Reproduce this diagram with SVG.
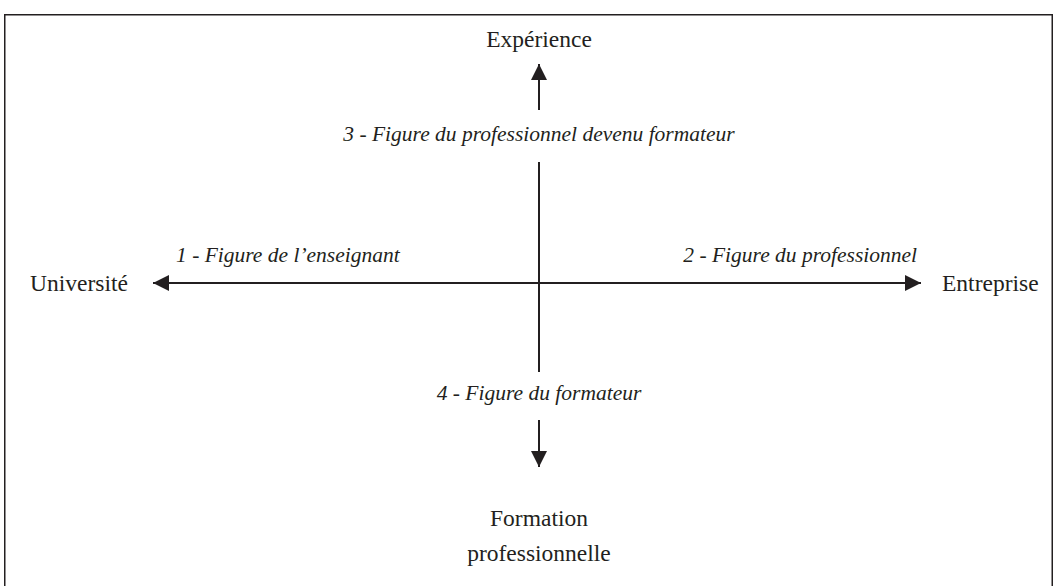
<svg xmlns="http://www.w3.org/2000/svg" width="1054" height="586" viewBox="0 0 1054 586">
<style>
.t{font-family:"Liberation Serif","Times New Roman",serif;font-size:23.5px;fill:#231f20}
.i{font-style:italic;font-size:21.5px}
.ax{stroke:#231f20;stroke-width:2;fill:none}
</style>
<defs>
<marker id="ah" viewBox="0 0 16 16" refX="16" refY="8" markerWidth="16" markerHeight="16" markerUnits="userSpaceOnUse" orient="auto">
<path d="M0,0 L16,8 L0,16 z" fill="#231f20"/>
</marker>
</defs>
<rect x="4.75" y="14.75" width="1047.5" height="600" fill="none" stroke="#231f20" stroke-width="1.5"/>
<g id="connectors">
<line class="ax" x1="539" y1="110" x2="539" y2="64" marker-end="url(#ah)"/>
<line class="ax" x1="539" y1="162" x2="539" y2="372"/>
<line class="ax" x1="539" y1="420" x2="539" y2="467" marker-end="url(#ah)"/>
<line class="ax" x1="539" y1="283" x2="153" y2="283" marker-end="url(#ah)"/>
<line class="ax" x1="539" y1="283" x2="921" y2="283" marker-end="url(#ah)"/>
</g>
<g id="experience"><text class="t" x="539" y="47" text-anchor="middle">Expérience</text></g>
<g id="universite"><text class="t" x="30" y="291">Université</text></g>
<g id="entreprise"><text class="t" x="942" y="291">Entreprise</text></g>
<g id="formation"><text class="t" x="539" y="526" text-anchor="middle">Formation</text><text class="t" x="539" y="561" text-anchor="middle">professionnelle</text></g>
<g id="fig1"><text class="t i" x="176" y="262">1 - Figure de l’enseignant</text></g>
<g id="fig2"><text class="t i" x="917" y="262" text-anchor="end">2 - Figure du professionnel</text></g>
<g id="fig3"><text class="t i" x="539" y="141" text-anchor="middle">3 - Figure du professionnel devenu formateur</text></g>
<g id="fig4"><text class="t i" x="539" y="400" text-anchor="middle">4 - Figure du formateur</text></g>
</svg>
